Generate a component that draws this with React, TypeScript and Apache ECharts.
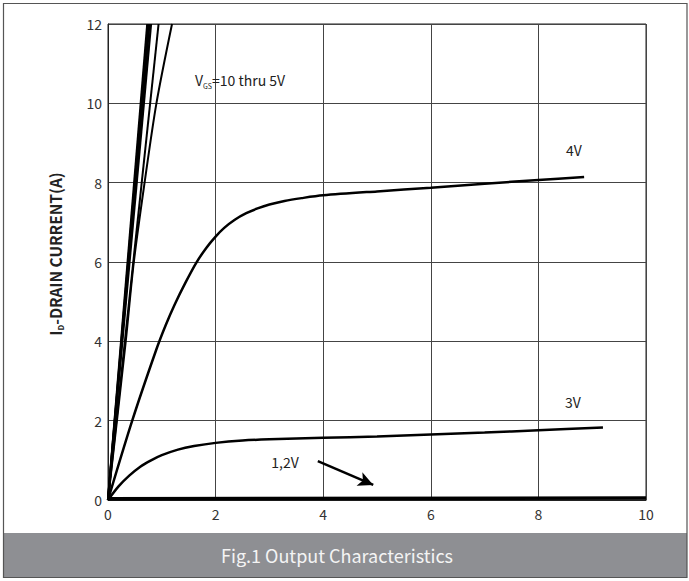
import React, { useEffect, useRef } from "react";
import * as echarts from "echarts";

type P = [number, number];

const xTickValues = [0, 2, 4, 6, 8, 10];
const yTickValues = [0, 2, 4, 6, 8, 10, 12];

const curve10V: P[] = [[0, 0], [0.73, 12]];
const curve9V: P[] = [[0, 0], [0.75, 12]];
const curve8V: P[] = [[0, 0], [0.77, 12]];
const curve7V: P[] = [[0, 0], [0.8, 12]];
const curve6V: P[] = [[0, 0], [0.94, 12]];
const curve5V: P[] = [[0, 0], [0.33, 4], [0.48, 6], [0.68, 8], [0.9, 10], [1.19, 12]];
const curve4V: P[] = [
  [0, 0], [0.45, 2.0], [0.9, 3.8], [1.07, 4.4], [1.24, 4.93], [1.44, 5.48], [1.64, 5.98],
  [1.83, 6.36], [2.0, 6.64], [2.16, 6.86], [2.35, 7.06], [2.57, 7.23], [2.78, 7.35],
  [3.0, 7.45], [3.28, 7.54], [3.6, 7.61], [4, 7.68], [5, 7.78], [6, 7.87], [7, 7.97],
  [8, 8.07], [8.85, 8.14],
];
const curve3V: P[] = [
  [0, 0], [0.2, 0.35], [0.4, 0.62], [0.6, 0.84], [0.8, 1.0], [1.0, 1.13], [1.3, 1.27],
  [1.6, 1.36], [2, 1.44], [2.5, 1.5], [3, 1.53], [4, 1.57], [5, 1.6], [6, 1.65],
  [7, 1.7], [8, 1.76], [9.2, 1.83],
];
const curve12V: P[] = [[0, 0.03], [10, 0.05]];
const arrowFrom: P = [3.9, 0.98];
const arrowTo: P = [4.93, 0.38];

const FONT = "'Noto Sans CJK SC', 'Noto Sans', sans-serif";

export default function App() {
  const ref = useRef<HTMLDivElement>(null);
  useEffect(() => {
    if (!ref.current) return;
    const chart = echarts.init(ref.current, undefined, { renderer: "svg" });
    const lineSeries = (name: string, data: P[], width: number, smooth: number | boolean = false, extra: any = {}) => ({
      name,
      type: "line",
      data,
      showSymbol: false,
      symbol: "none",
      smooth,
      lineStyle: { color: "#000", width },
      z: 5,
      ...extra,
    });
    chart.setOption({
      animation: false,
      backgroundColor: "#fff",
      grid: {
        left: 108,
        top: 24,
        right: 43,
        bottom: 81,
        show: true,
        borderColor: "#222",
        borderWidth: 1,
      },
      xAxis: {
        type: "value",
        min: 0,
        max: 10,
        interval: 2,
        axisLine: { show: true, lineStyle: { color: "#222", width: 1 } },
        axisTick: { show: false },
        axisLabel: {
          color: "#333",
          fontSize: 14,
          fontFamily: FONT,
          margin: 7,
          formatter: (v: number) => (xTickValues.includes(v) ? String(v) : ""),
        },
        splitLine: { show: true, lineStyle: { color: "#444", width: 1 } },
      },
      yAxis: {
        type: "value",
        min: 0,
        max: 12,
        interval: 2,
        axisLine: { show: true, lineStyle: { color: "#222", width: 1 } },
        axisTick: { show: false },
        axisLabel: {
          color: "#333",
          fontSize: 14,
          fontFamily: FONT,
          margin: 6,
          formatter: (v: number) => (yTickValues.includes(v) ? String(v) : ""),
        },
        splitLine: { show: true, lineStyle: { color: "#444", width: 1 } },
      },
      series: [
        lineSeries("10V", curve10V, 2.2),
        lineSeries("9V", curve9V, 2.2),
        lineSeries("8V", curve8V, 2.2),
        lineSeries("7V", curve7V, 2.2),
        lineSeries("6V", curve6V, 2),
        lineSeries("5V", curve5V, 2, 0.3),
        lineSeries("4V", curve4V, 2.5, 0.3),
        lineSeries("3V", curve3V, 2.5, 0.3),
        lineSeries("1,2V", curve12V, 3.5, false, {
          markLine: {
            silent: true,
            symbol: ["none", "arrow"],
            symbolSize: [11, 15],
            label: { show: false },
            lineStyle: { color: "#000", width: 2.5, type: "solid" },
            data: [[{ coord: arrowFrom }, { coord: arrowTo }]],
          },
        }),
      ],
      graphic: [
        {
          type: "rect",
          shape: { x: 3, y: 533, width: 684, height: 44 },
          style: { fill: "#8e8f93" },
          z: 1,
        },
        {
          type: "rect",
          shape: { x: 3.5, y: 3.5, width: 683.5, height: 574 },
          style: { fill: "none", stroke: "#555", lineWidth: 1.2 },
          z: 2,
        },
        {
          type: "text",
          x: 337,
          y: 555,
          style: {
            text: "Fig.1 Output Characteristics",
            fill: "#f4f4f4",
            fontSize: 18,
            fontFamily: FONT,
            align: "center",
            verticalAlign: "middle",
          },
          z: 3,
        },
        {
          type: "text",
          x: 55,
          y: 254,
          rotation: Math.PI / 2,
          style: {
            text: "{m|I}{s|D}{m|-DRAIN CURRENT(A)}",
            align: "center",
            verticalAlign: "middle",
            fontFamily: FONT,
            rich: {
              m: { fontSize: 15.5, fontWeight: "bold", fill: "#222", lineHeight: 18, fontFamily: FONT },
              s: { fontSize: 8, fontWeight: "bold", fill: "#222", lineHeight: 18, verticalAlign: "bottom", fontFamily: FONT },
            },
          },
          z: 3,
        },
        {
          type: "text",
          x: 195,
          y: 80,
          style: {
            text: "{m|V}{s|GS}{m|=10 thru 5V}",
            align: "left",
            verticalAlign: "middle",
            fontFamily: FONT,
            rich: {
              m: { fontSize: 14, fill: "#222", lineHeight: 18, fontFamily: FONT },
              s: { fontSize: 7, fill: "#222", lineHeight: 18, verticalAlign: "bottom", fontFamily: FONT },
            },
          },
          z: 3,
        },
        {
          type: "text",
          x: 574,
          y: 150,
          style: { text: "4V", fill: "#222", fontSize: 14, fontFamily: FONT, align: "center", verticalAlign: "middle" },
          z: 3,
        },
        {
          type: "text",
          x: 573,
          y: 402,
          style: { text: "3V", fill: "#222", fontSize: 14, fontFamily: FONT, align: "center", verticalAlign: "middle" },
          z: 3,
        },
        {
          type: "text",
          x: 285,
          y: 462,
          style: { text: "1,2V", fill: "#222", fontSize: 14, fontFamily: FONT, align: "center", verticalAlign: "middle" },
          z: 3,
        },
      ],
    });
    return () => chart.dispose();
  }, []);
  return (
    <div
      ref={ref}
      style={{ position: "fixed", left: 0, top: 0, width: 689, height: 581, background: "#fff" }}
    />
  );
}
